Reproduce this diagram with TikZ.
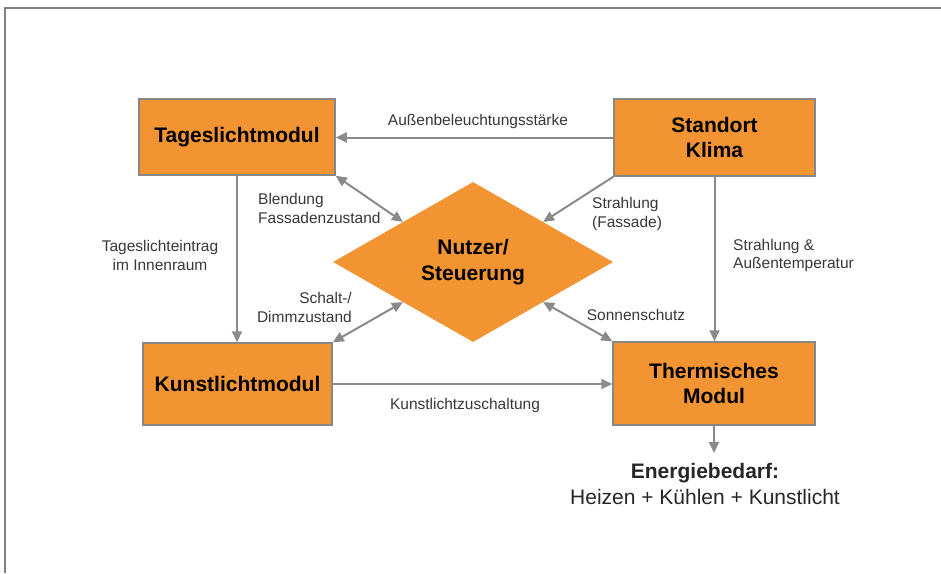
\documentclass[tikz,border=0pt]{standalone}
\usepackage{fontspec}
\setmainfont{Liberation Sans}
\usetikzlibrary{shapes.geometric,arrows.meta,calc}
\definecolor{boxor}{RGB}{242,148,50}
\definecolor{boxbd}{RGB}{135,135,135}
\definecolor{arrgr}{RGB}{138,138,138}
\definecolor{lbl}{RGB}{55,55,55}
\begin{document}
\begin{tikzpicture}[x=1pt,y=-1pt,
  modbox/.style={draw=boxbd, line width=1.5pt, fill=boxor, inner sep=0pt, align=center,
    font=\fontsize{21}{25}\selectfont\bfseries},
  arr/.style={draw=arrgr, line width=2pt, -{Triangle[length=11pt,width=10pt]}},
  darr/.style={draw=arrgr, line width=2pt, {Triangle[length=11pt,width=10pt]}-{Triangle[length=11pt,width=10pt]}},
  lab/.style={text=lbl, inner sep=0pt, font=\fontsize{15.5}{18.5}\selectfont},
  frame/.style={draw=black!50, line width=1.5pt}]
\useasboundingbox (0,0) rectangle (941,573);
\draw[frame] (5,573) -- (5,8) -- (941,8);

\node[modbox, minimum width=196pt, minimum height=76pt] (tl) at (237,137) {Tageslichtmodul};
\node[modbox, minimum width=201pt, minimum height=77pt] (sk) at (714.5,137.5) {Standort\\Klima};
\node[modbox, minimum width=189pt, minimum height=82pt] (kl) at (237.5,384) {Kunstlichtmodul};
\node[modbox, minimum width=202pt, minimum height=83pt] (tm) at (714,383.5) {Thermisches\\Modul};
\node[diamond, fill=boxor, minimum width=280pt, minimum height=160pt, inner sep=0pt, align=center,
  font=\fontsize{21}{26}\selectfont\bfseries] (nd) at (473,262) {Nutzer/\\Steuerung};
\node[anchor=north, inner xsep=0pt, inner ysep=10pt, align=center, text=black!85,
  font=\fontsize{21}{26}\selectfont] (en) at (705,453) {\textbf{Energiebedarf:}\\Heizen + Kühlen + Kunstlicht};

\draw[arr] (sk.west) -- (sk.west -| tl.east);
\draw[arr] (tl.south) -- (tl.south |- kl.north);
\draw[arr] (sk.south) -- (sk.south |- tm.north);
\draw[arr] (kl.east) -- (kl.east -| tm.west);
\draw[arr] (tm.south) -- (tm.south |- en.north);
\draw[darr] (tl.south east) -- ($(nd.west)!0.5!(nd.north)$);
\draw[darr] (kl.north east) -- ($(nd.west)!0.5!(nd.south)$);
\draw[arr] (sk.south west) -- ($(nd.east)!0.5!(nd.north)$);
\draw[darr] (tm.north west) -- ($(nd.east)!0.5!(nd.south)$);

\node[lab] (l1) at (478,121) {Außenbeleuchtungsstärke};
\node[lab, align=center] (l2) at (160,255.5) {Tageslichteintrag\\im Innenraum};
\node[lab, align=left, anchor=west] (l3) at (733,255.5) {Strahlung \&\\Außentemperatur};
\node[lab, align=left, anchor=west] (l4) at (258,208.5) {Blendung\\Fassadenzustand};
\node[lab, align=right, anchor=east] (l5) at (352,307.5) {Schalt-/\\Dimmzustand};
\node[lab, align=left, anchor=west] (l6) at (592,214) {Strahlung\\(Fassade)};
\node[lab] (l7) at (636,315) {Sonnenschutz};
\node[lab] (l8) at (465,405) {Kunstlichtzuschaltung};
\end{tikzpicture}
\end{document}
